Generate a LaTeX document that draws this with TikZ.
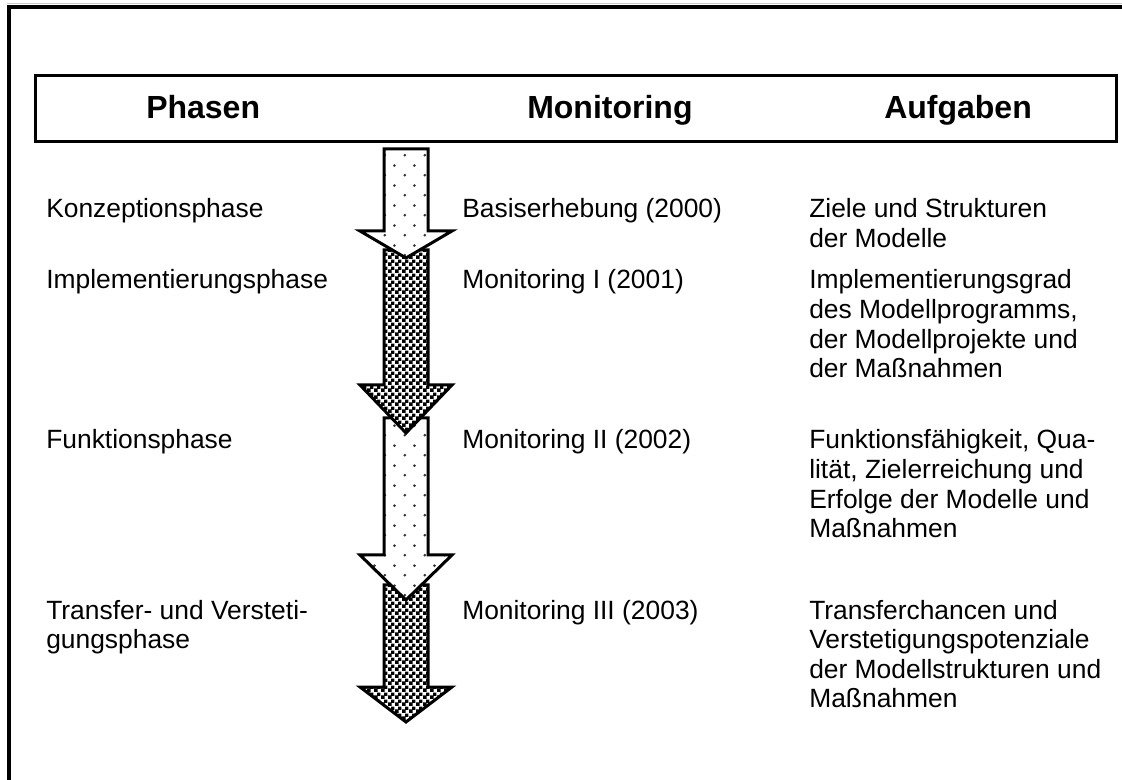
\documentclass[tikz,border=0pt]{standalone}
\usepackage{fontspec}
\setmainfont{Liberation Sans}
\usetikzlibrary{patterns}
\pgfdeclarepatternformonly{sparsedots}{\pgfpointorigin}{\pgfpoint{15pt}{15pt}}{\pgfpoint{15pt}{15pt}}{%
  \pgfpathcircle{\pgfpoint{3.75pt}{3.75pt}}{1.15pt}%
  \pgfpathcircle{\pgfpoint{11.25pt}{11.25pt}}{1.15pt}%
  \pgfusepath{fill}}
\pgfdeclarepatternformonly{finechecker}{\pgfpointorigin}{\pgfpoint{5pt}{5pt}}{\pgfpoint{5pt}{5pt}}{%
  \pgfpathrectangle{\pgfpointorigin}{\pgfpoint{2.8pt}{2.8pt}}%
  \pgfpathrectangle{\pgfpoint{2.5pt}{2.5pt}}{\pgfpoint{2.5pt}{2.5pt}}%
  \pgfusepath{fill}}
\newcommand\celltext[1]{\begin{tabular}[t]{@{}l@{}}#1\end{tabular}}
\begin{document}
\begin{tikzpicture}[x=0.75pt,y=-0.75pt,
  arrowdots/.style={draw=black, line width=2.25pt, preaction={fill=white}, pattern=sparsedots, pattern color=black!80},
  arrowcheck/.style={draw=black, line width=2.25pt, preaction={fill=white}, pattern=finechecker, pattern color=black},
  body/.style={anchor=base west, inner sep=0pt, font=\fontsize{19.8pt}{22.2pt}\selectfont},
  head/.style={anchor=base west, inner sep=0pt, font=\fontsize{24pt}{28pt}\selectfont\bfseries},
  frame/.style={draw=black, line width=3pt},
  hbox/.style={draw=black, line width=2.25pt}]
\useasboundingbox (0,0) rectangle (1122,780);
% outer frame (cropped)
\draw[black!20, line width=0.75pt] (7,4) -- (1122,4);
\draw[frame] (9,780) -- (9,7.5) -- (1122,7.5);
% header
\draw[hbox] (35,75.5) rectangle (1116,141.5);
\node[head] (h1) at (146,119) {Phasen};
\node[head] (h2) at (527,119) {Monitoring};
\node[head] (h3) at (884,119) {Aufgaben};
% arrows (bottom first)
\draw[arrowcheck] (384,585) -- (428,585) -- (428,687) -- (452,687) -- (406,722) -- (360,687) -- (384,687) -- cycle;
\draw[arrowdots] (384,418) -- (428,418) -- (428,555) -- (452,555) -- (406,600) -- (360,555) -- (384,555) -- cycle;
\draw[arrowcheck] (384,250) -- (428,250) -- (428,385) -- (452,385) -- (406,433) -- (360,385) -- (384,385) -- cycle;
\draw[arrowdots] (384,149) -- (428,149) -- (428,231) -- (452,231) -- (406,258) -- (360,231) -- (384,231) -- cycle;
% phases
\node[body] (p1) at (46,218) {Konzeptionsphase};
\node[body] (p2) at (46,289) {Implementierungsphase};
\node[body] (p3) at (46,449) {Funktionsphase};
\node[body] (p4) at (46,619) {\celltext{Transfer- und Versteti-\\gungsphase}};
% monitoring
\node[body] (m1) at (462,218) {Basiserhebung (2000)};
\node[body] (m2) at (462,289) {Monitoring I (2001)};
\node[body] (m3) at (462,449) {Monitoring II (2002)};
\node[body] (m4) at (462,619) {Monitoring III (2003)};
% tasks
\node[body] (a1) at (809,218) {\celltext{Ziele und Strukturen\\der Modelle}};
\node[body] (a2) at (809,289) {\celltext{Implementierungsgrad\\des Modellprogramms,\\der Modellprojekte und\\der Maßnahmen}};
\node[body] (a3) at (809,449) {\celltext{Funktionsfähigkeit, Qua-\\lität, Zielerreichung und\\Erfolge der Modelle und\\Maßnahmen}};
\node[body] (a4) at (809,619) {\celltext{Transferchancen und\\Verstetigungspotenziale\\der Modellstrukturen und\\Maßnahmen}};
\end{tikzpicture}
\end{document}
